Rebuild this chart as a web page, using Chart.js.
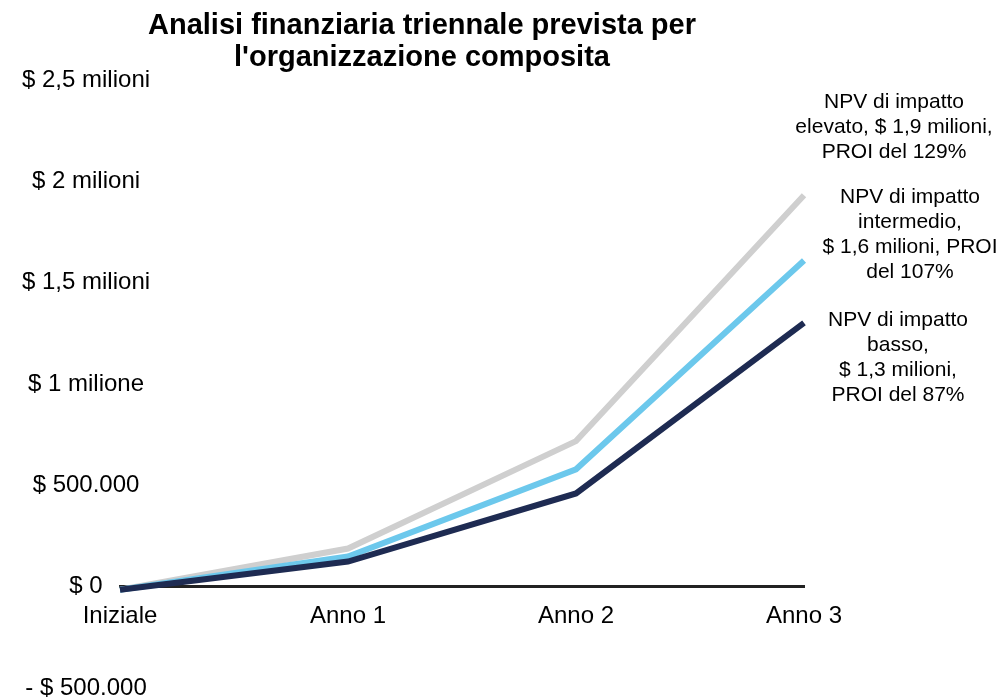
<!DOCTYPE html>
<html>
<head>
<meta charset="utf-8">
<script src="https://cdn.jsdelivr.net/npm/chart.js@4.4.1/dist/chart.umd.min.js"></script>
<style>
  html, body { margin: 0; padding: 0; background: #fff; }
  #wrap { width: 1001px; height: 700px; }
</style>
</head>
<body>
<div id="wrap"><canvas id="chart"></canvas></div>
<script>
// chart data
const categories = ['Iniziale', 'Anno 1', 'Anno 2', 'Anno 3'];
const npvHigh = [-15000, 188000, 718000, 1931000];
const npvMid = [-15000, 149000, 579000, 1609000];
const npvLow = [-15000, 124000, 460000, 1302000];
const yTickValues = [-500000, 0, 500000, 1000000, 1500000, 2000000, 2500000];
const yTickLabels = ['- $ 500.000', '$ 0', '$ 500.000', '$ 1 milione', '$ 1,5 milioni', '$ 2 milioni', '$ 2,5 milioni'];

const titleLines = ['Analisi finanziaria triennale prevista per', "l'organizzazione composita"];
const noteHigh = ['NPV di impatto', 'elevato, $ 1,9 milioni,', 'PROI del 129%'];
const noteMid = ['NPV di impatto', 'intermedio,', '$ 1,6 milioni, PROI', 'del 107%'];
const noteLow = ['NPV di impatto', 'basso,', '$ 1,3 milioni,', 'PROI del 87%'];

const FONT = '"Liberation Sans", Arial, sans-serif';

// title and the text notes on the right
const textPlugin = {
  id: 'textPlugin',
  afterDraw(chart) {
    const ctx = chart.ctx;
    ctx.save();
    ctx.fillStyle = '#000';
    ctx.textAlign = 'center';
    ctx.textBaseline = 'middle';
    ctx.font = 'bold 29px ' + FONT;
    titleLines.forEach((line, i) => ctx.fillText(line, 422, 26 + i * 32));

    ctx.font = '21px ' + FONT;
    const drawNote = (lines, x, y) => {
      lines.forEach((line, i) => ctx.fillText(line, x, y + i * 25));
    };
    drawNote(noteHigh, 894, 102);
    drawNote(noteMid, 910, 197);
    drawNote(noteLow, 898, 320);
    ctx.restore();
  }
};

const ctx = document.getElementById('chart').getContext('2d');
const chart = new Chart(ctx, {
  type: 'line',
  data: {
    labels: categories,
    datasets: [
      { label: 'Impatto elevato', data: npvHigh, borderColor: '#CFCFCF', order: 3 },
      { label: 'Impatto intermedio', data: npvMid, borderColor: '#6CC8EC', order: 2 },
      { label: 'Impatto basso', data: npvLow, borderColor: '#1E2B52', order: 1 },
    ],
  },
  options: {
    responsive: true,
    maintainAspectRatio: false,
    animation: false,
    layout: { padding: { top: 80, right: 197, bottom: 12, left: 0 } },
    elements: {
      line: { borderWidth: 6, tension: 0, fill: false },
      point: { radius: 0 }
    },
    plugins: {
      legend: { display: false },
      tooltip: { enabled: false }
    },
    scales: {
      x: {
        position: { y: 0 },
        offset: false,
        grid: { display: false, drawTicks: false },
        border: { display: true, color: '#222', width: 3 },
        ticks: {
          color: '#000',
          font: { family: FONT, size: 24 },
          padding: 15,
          maxRotation: 0,
          autoSkip: false
        }
      },
      y: {
        min: -500000,
        max: 2500000,
        grid: { display: false, drawTicks: false },
        border: { display: false },
        afterFit(scale) { scale.width = 120; },
        afterBuildTicks(scale) {
          scale.ticks = yTickValues.map(v => ({ value: v }));
        },
        ticks: {
          color: '#000',
          font: { family: FONT, size: 24, lineHeight: 1 },
          mirror: true,
          crossAlign: 'center',
          padding: -98,
          callback: function (value) {
            const i = yTickValues.indexOf(value);
            return i >= 0 ? yTickLabels[i] : '';
          }
        }
      }
    }
  },
  plugins: [textPlugin]
});
</script>
</body>
</html>
